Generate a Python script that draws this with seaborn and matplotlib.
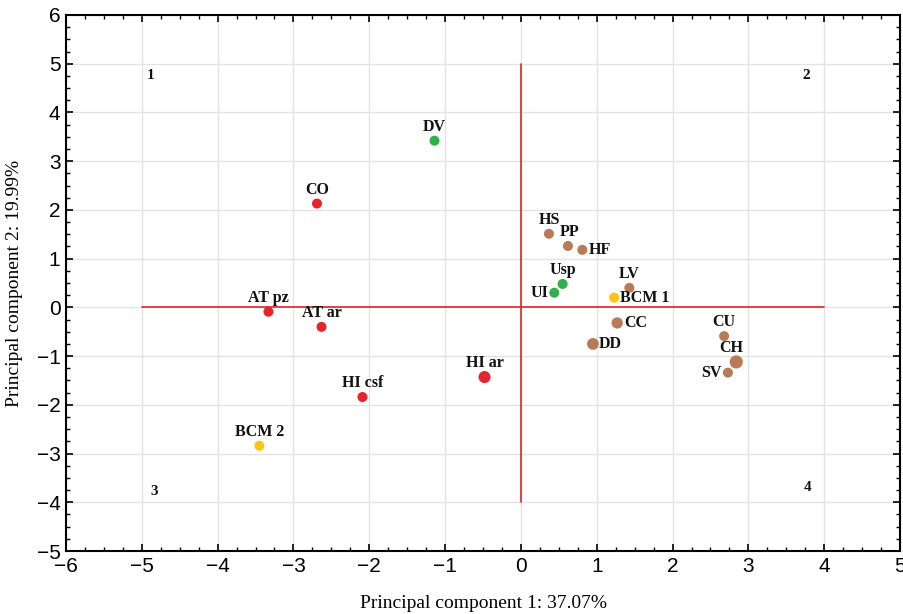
import numpy as np
import pandas as pd
import matplotlib
matplotlib.use('Agg')
import matplotlib.pyplot as plt
from matplotlib.ticker import MultipleLocator
import seaborn as sns

# ── Data ────────────────────────────────────────────────
labels = ["DV", "CO", "AT pz", "AT ar", "HI csf", "BCM 2", "HI ar",
          "HS", "PP", "HF", "Usp", "UI", "LV", "BCM 1", "CC", "DD",
          "CU", "CH", "SV"]
pc1 = [-1.14, -2.69, -3.33, -2.63, -2.09, -3.45, -0.48,
       0.37, 0.62, 0.81, 0.55, 0.44, 1.43, 1.23, 1.27, 0.95,
       2.68, 2.84, 2.73]
pc2 = [3.42, 2.13, -0.09, -0.40, -1.84, -2.84, -1.43,
       1.51, 1.26, 1.18, 0.48, 0.30, 0.40, 0.20, -0.32, -0.75,
       -0.59, -1.12, -1.34]
groups = ["green", "red", "red", "red", "red", "yellow", "red",
          "brown", "brown", "brown", "green", "green", "brown", "yellow", "brown", "brown",
          "brown", "brown", "brown"]
quadrants = ["1", "2", "3", "4"]
quad_x = [-4.89, 3.76, -4.84, 3.78]
quad_y = [4.75, 4.75, -3.77, -3.69]

# ── Styles ──────────────────────────────────────────────
palette = {"red": "#E8232B", "green": "#2FB04A", "yellow": "#FFC414", "brown": "#B97B57"}
big = {"HI ar": 75, "CH": 90, "DD": 72, "CC": 66}
# label placement: (dx, dy, ha) in pixels
place = {"HF": (6, 0, "left"), "UI": (-6, 0, "right"), "BCM 1": (6, 0, "left"),
         "CC": (7, 0, "left"), "DD": (6, 0, "left"), "SV": (-6, 0, "right"),
         "CH": (-5, 12, "center"), "PP": (2, 12, "center")}

df = pd.DataFrame({"label": labels, "pc1": pc1, "pc2": pc2, "group": groups})
df["size"] = [big.get(l, 52) for l in labels]

sns.set_theme(style="white")
fig = plt.figure(figsize=(9.04, 6.14), dpi=100)
ax = fig.add_axes([0.073, 0.1026, 0.9226, 0.873])

ax.set_xlim(-6, 5)
ax.set_ylim(-5, 6)
ax.xaxis.set_major_locator(MultipleLocator(1))
ax.yaxis.set_major_locator(MultipleLocator(1))
ax.xaxis.set_minor_locator(MultipleLocator(0.25))
ax.yaxis.set_minor_locator(MultipleLocator(0.25))
ax.grid(True, which="major", color="#E3E3E3", linewidth=1)
ax.set_axisbelow(True)

# quadrant cross
ax.plot([0, 0], [-4, 5], color="#D8262C", linewidth=1.2, zorder=2)
ax.plot([-5, 4], [0, 0], color="#D8262C", linewidth=1.2, zorder=2)

sns.scatterplot(data=df, x="pc1", y="pc2", hue="group", palette=palette,
                size="size", sizes=(52, 90), linewidth=0, legend=False,
                ax=ax, zorder=3)

for l, x, y in zip(labels, pc1, pc2):
    dx, dy, ha = place.get(l, (0, 12, "center"))
    va = "bottom" if dy > 0 else "center"
    ax.annotate(l, (x, y), xytext=(dx, dy - 6 if dy > 0 else 0),
                textcoords="offset pixels", ha=ha, va=va,
                fontsize=11.5, fontweight="bold", family="Liberation Serif",
                color="#111111", zorder=4)

for q, x, y in zip(quadrants, quad_x, quad_y):
    ax.text(x, y, q, ha="center", va="center", fontsize=11, fontweight="bold",
            family="Liberation Serif", color="#111111")

for s in ax.spines.values():
    s.set_color("black")
    s.set_linewidth(1.5)
ax.tick_params(which="both", direction="in", top=True, right=True,
               bottom=True, left=True, color="black")
ax.tick_params(which="major", length=5, width=1.2, labelsize=15, pad=4)
ax.tick_params(which="minor", length=3, width=1)
for t in ax.get_xticklabels() + ax.get_yticklabels():
    t.set_family("Liberation Sans")
    t.set_color("black")

ax.set_xlabel("Principal component 1: 37.07%", family="Liberation Serif",
              fontsize=14, color="black", labelpad=14)
ax.set_ylabel("Principal component 2: 19.99%", family="Liberation Serif",
              fontsize=14, color="black", labelpad=10)

fig.savefig("out.png", dpi=100)
plt.close(fig)
